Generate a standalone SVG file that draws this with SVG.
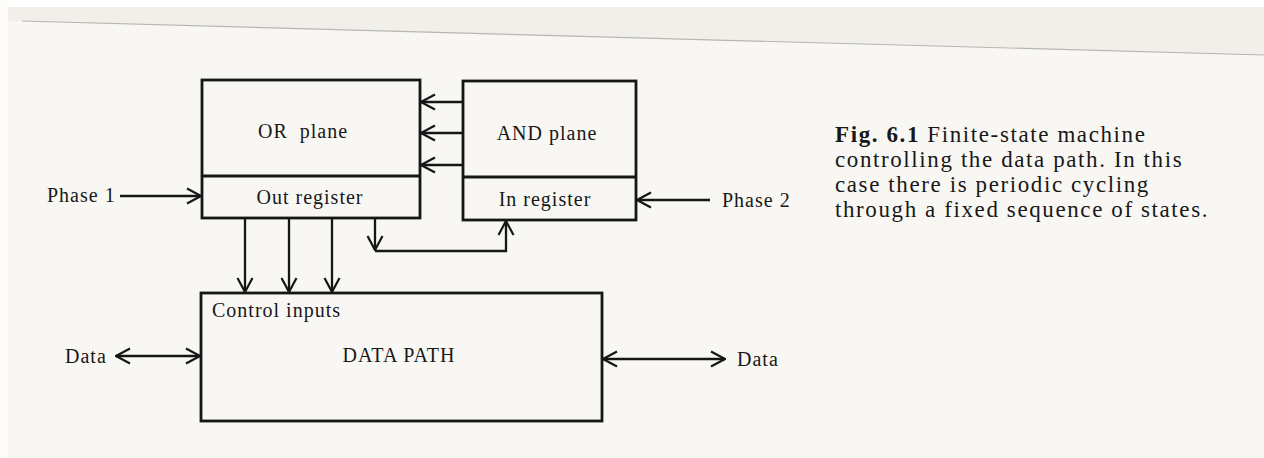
<svg xmlns="http://www.w3.org/2000/svg" width="1264" height="458" viewBox="0 0 1264 458">
<defs>
<style>
.box{fill:none;stroke:#161616;stroke-width:2.8}
.ln{fill:none;stroke:#161616;stroke-width:2.3}
.t{font-family:"Liberation Serif","Times New Roman",serif;font-size:20px;fill:#181818;letter-spacing:1px}
.c{font-family:"Liberation Serif","Times New Roman",serif;font-size:23px;fill:#181818;letter-spacing:1.6px}
</style>
<marker id="ah" viewBox="0 0 16 18" refX="15" refY="9" markerWidth="16" markerHeight="18" markerUnits="userSpaceOnUse" orient="auto-start-reverse">
<path d="M1,1.5 L15,9 L1,16.5" fill="none" stroke="#161616" stroke-width="2.2"/>
</marker>
</defs>
<rect x="0" y="0" width="1264" height="458" fill="#f8f7f3"/>
<path d="M8,7 L1264,7 L1264,55 L22,21 L8,21 Z" fill="#f1efe9"/>
<rect x="0" y="0" width="1264" height="7" fill="#ffffff"/>
<rect x="0" y="0" width="8" height="458" fill="#fcfbf8"/>
<line x1="22" y1="21" x2="1264" y2="55" stroke="#b8b6b0" stroke-width="1.2"/>

<g id="or-plane">
<rect class="box" x="202" y="80" width="218" height="138"/>
<line class="box" x1="202" y1="176" x2="420" y2="176"/>
<text class="t" x="258" y="138" xml:space="preserve">OR  plane</text>
</g>
<g id="out-register">
<text class="t" x="310" y="204" text-anchor="middle">Out register</text>
</g>
<g id="and-plane">
<rect class="box" x="463" y="81" width="173" height="139"/>
<line class="box" x1="463" y1="177" x2="636" y2="177"/>
<text class="t" x="547" y="140" text-anchor="middle">AND plane</text>
</g>
<g id="in-register">
<text class="t" x="545" y="206" text-anchor="middle">In register</text>
</g>
<g id="data-path">
<rect class="box" x="201" y="293" width="401" height="128"/>
<text class="t" x="212" y="317">Control inputs</text>
<text class="t" x="399" y="362" text-anchor="middle">DATA PATH</text>
</g>
<g id="labels">
<text class="t" x="47" y="202">Phase 1</text>
<text class="t" x="722" y="207">Phase 2</text>
<text class="t" x="65" y="363">Data</text>
<text class="t" x="737" y="366">Data</text>
</g>
<g id="caption">
<text class="c" x="835" y="142"><tspan font-weight="bold">Fig. 6.1</tspan> Finite-state machine</text>
<text class="c" x="835" y="167">controlling the data path. In this</text>
<text class="c" x="835" y="192">case there is periodic cycling</text>
<text class="c" x="835" y="217">through a fixed sequence of states.</text>
</g>
<g id="connectors">
<line class="ln" x1="463" y1="102" x2="421" y2="102" marker-end="url(#ah)"/>
<line class="ln" x1="463" y1="133" x2="421" y2="133" marker-end="url(#ah)"/>
<line class="ln" x1="463" y1="165" x2="421" y2="165" marker-end="url(#ah)"/>
<line class="ln" x1="120" y1="196" x2="201" y2="196" marker-end="url(#ah)"/>
<line class="ln" x1="710" y1="200" x2="637" y2="200" marker-end="url(#ah)"/>
<line class="ln" x1="245" y1="218" x2="245" y2="292" marker-end="url(#ah)"/>
<line class="ln" x1="289" y1="218" x2="289" y2="292" marker-end="url(#ah)"/>
<line class="ln" x1="332" y1="218" x2="332" y2="292" marker-end="url(#ah)"/>
<line class="ln" x1="375" y1="218" x2="375" y2="250" marker-end="url(#ah)"/>
<path class="ln" d="M375,251 L506,251 L506,221" marker-end="url(#ah)"/>
<line class="ln" x1="116" y1="356" x2="200" y2="356" marker-start="url(#ah)" marker-end="url(#ah)"/>
<line class="ln" x1="603" y1="359" x2="725" y2="359" marker-start="url(#ah)" marker-end="url(#ah)"/>
</g>
</svg>
